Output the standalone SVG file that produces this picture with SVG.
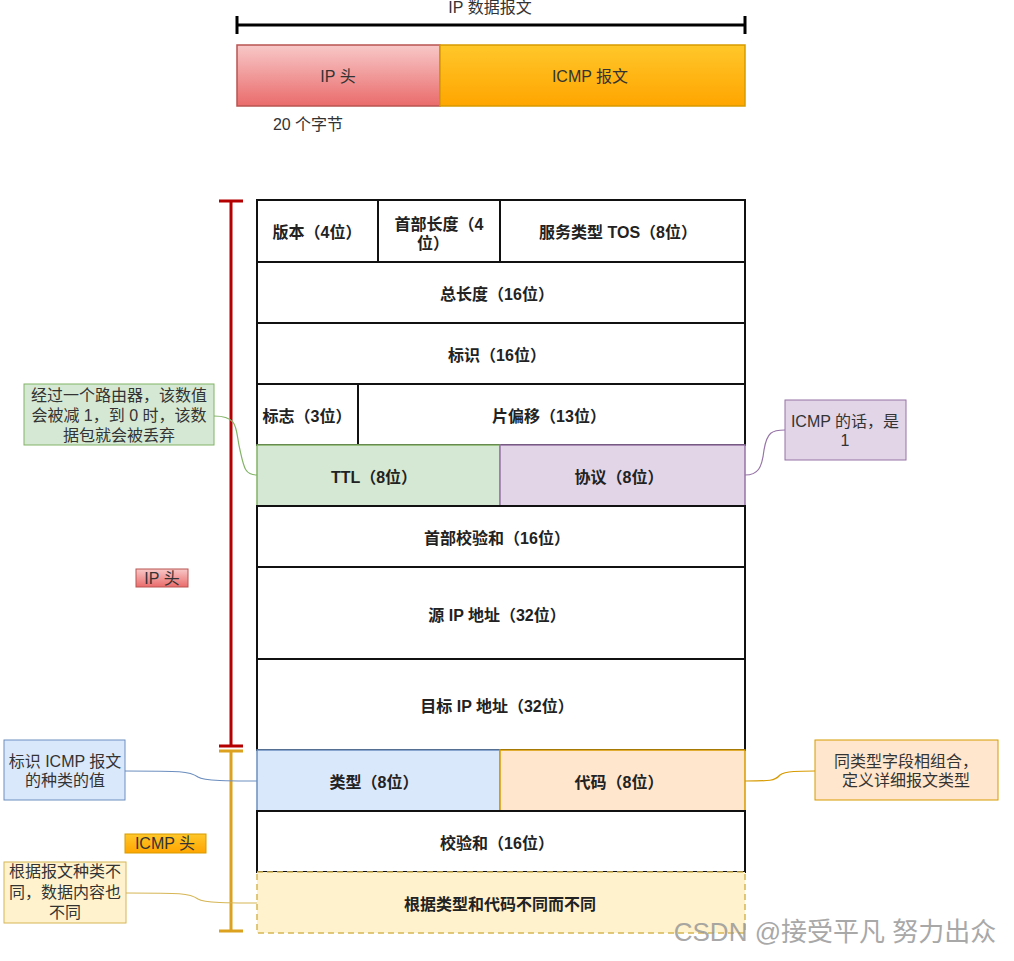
<svg xmlns="http://www.w3.org/2000/svg" width="1014" height="961" viewBox="0 0 1014 961">
<defs>
<linearGradient id="gPink" x1="0" y1="0" x2="0" y2="1"><stop offset="0" stop-color="#f8c8c8"/><stop offset="1" stop-color="#ea6b6b"/></linearGradient>
<linearGradient id="gOrange" x1="0" y1="0" x2="0" y2="1"><stop offset="0" stop-color="#ffc72a"/><stop offset="1" stop-color="#ffa500"/></linearGradient>
<style>
text{font-family:"Liberation Sans","Noto Sans CJK SC",sans-serif;fill:#222;}
.t{font-size:16px;font-weight:bold;text-anchor:middle;}
.a{font-size:16px;text-anchor:middle;fill:#333;}
.cell{fill:#fff;stroke:#111;stroke-width:2;}
.conn{fill:none;stroke-width:1.2;}
</style>
</defs>
<rect width="1014" height="961" fill="#fff"/>

<g id="top">
<text x="490" y="13" class="a">IP 数据报文</text>
<path d="M237 25H745M237 16V34M745 16V34" stroke="#000" stroke-width="3" fill="none"/>
<g id="ip-box"><rect x="237" y="45" width="203" height="61" fill="url(#gPink)" stroke="#b85450" stroke-width="1.5"/><text x="338" y="82" class="a">IP 头</text></g>
<g id="icmp-box"><rect x="440" y="45" width="305" height="61" fill="url(#gOrange)" stroke="#d79b00" stroke-width="1.5"/><text x="590" y="82" class="a">ICMP 报文</text></g>
<text x="308" y="130" class="a">20 个字节</text>
</g>

<g id="brackets">
<path d="M231 201V746M219 201H243M219 746H243" stroke="#b40000" stroke-width="3" fill="none"/>
<path d="M231 751V931M219 751H243M219 931H243" stroke="#dba11f" stroke-width="3" fill="none"/>
<g id="lbl-ip"><rect x="136" y="569" width="52" height="18" fill="url(#gPink)" stroke="#b85450"/><text x="162" y="584" class="a">IP 头</text></g>
<g id="lbl-icmp"><rect x="125" y="834" width="81" height="19" fill="url(#gOrange)" stroke="#d79b00"/><text x="165" y="849" class="a">ICMP 头</text></g>
</g>

<g id="connectors">
<path class="conn" stroke="#82b366" d="M214 416C240 416 235 430 240 450C244 468 245 475 257 475"/>
<path class="conn" stroke="#9673a6" d="M745 475C758 475 762 468 764 450C767 432 772 430 785 430"/>
<path class="conn" stroke="#6c8ebf" d="M125 771C180 771 190 771 198 777C204 781 230 781 257 781"/>
<path class="conn" stroke="#d79b00" d="M745 781C770 781 775 781 780 775C785 771 800 771 815 771"/>
<path class="conn" stroke="#d6b656" d="M126 893C180 893 190 893 198 899C204 903 230 903 257 903"/>
</g>

<g id="table">
<g id="r1">
<rect x="257" y="200" width="121" height="62" class="cell"/><text x="317" y="238" class="t">版本（4位）</text>
<rect x="378" y="200" width="122" height="62" class="cell"/><text x="439" y="230" class="t">首部长度（4</text><text x="433" y="249" class="t">位）</text>
<rect x="500" y="200" width="245" height="62" class="cell"/><text x="618" y="238" class="t">服务类型 TOS（8位）</text>
</g>
<g id="r2"><rect x="257" y="262" width="488" height="61" class="cell"/><text x="497" y="300" class="t">总长度（16位）</text></g>
<g id="r3"><rect x="257" y="323" width="488" height="61" class="cell"/><text x="497" y="361" class="t">标识（16位）</text></g>
<g id="r4">
<rect x="257" y="384" width="101" height="61" class="cell"/><text x="307" y="422" class="t">标志（3位）</text>
<rect x="358" y="384" width="387" height="61" class="cell"/><text x="549" y="422" class="t">片偏移（13位）</text>
</g>
<g id="r5">
<rect x="257" y="445" width="243" height="61" fill="#d5e8d4" stroke="#82b366" stroke-width="1.5"/><text x="374" y="483" class="t">TTL（8位）</text>
<rect x="500" y="445" width="245" height="61" fill="#e1d5e7" stroke="#9673a6" stroke-width="1.5"/><text x="619" y="483" class="t">协议（8位）</text>
</g>
<g id="r6"><rect x="257" y="506" width="488" height="61" class="cell"/><text x="497" y="544" class="t">首部校验和（16位）</text></g>
<g id="r7"><rect x="257" y="567" width="488" height="92" class="cell"/><text x="497" y="621" class="t">源 IP 地址（32位）</text></g>
<g id="r8"><rect x="257" y="659" width="488" height="91" class="cell"/><text x="497" y="712" class="t">目标 IP 地址（32位）</text></g>
<g id="r9">
<rect x="257" y="750" width="243" height="61" fill="#dae8fc" stroke="#6c8ebf" stroke-width="1.5"/><text x="374" y="788" class="t">类型（8位）</text>
<rect x="500" y="750" width="245" height="61" fill="#ffe6cc" stroke="#d79b00" stroke-width="1.5"/><text x="619" y="788" class="t">代码（8位）</text>
</g>
<g id="r10"><rect x="257" y="811" width="488" height="61" class="cell"/><text x="497" y="849" class="t">校验和（16位）</text></g>
<g id="r11"><rect x="257" y="872" width="488" height="61" fill="#fff2cc" stroke="#d6b656" stroke-width="1.5" stroke-dasharray="6 4"/><text x="500" y="910" class="t">根据类型和代码不同而不同</text></g>
</g>

<g id="note-ttl"><rect x="24" y="384" width="190" height="61" fill="#d5e8d4" stroke="#82b366"/>
<text x="119" y="401" class="a">经过一个路由器，该数值</text><text x="119" y="421" class="a">会被减 1，到 0 时，该数</text><text x="119" y="441" class="a">据包就会被丢弃</text></g>
<g id="note-proto"><rect x="785" y="400" width="121" height="60" fill="#e1d5e7" stroke="#9673a6"/>
<text x="845" y="427" class="a">ICMP 的话，是</text><text x="845" y="446" class="a">1</text></g>
<g id="note-type"><rect x="4" y="740" width="121" height="60" fill="#dae8fc" stroke="#6c8ebf"/>
<text x="65" y="767" class="a">标识 ICMP 报文</text><text x="65" y="786" class="a">的种类的值</text></g>
<g id="note-code"><rect x="815" y="740" width="183" height="60" fill="#ffe6cc" stroke="#d79b00"/>
<text x="906" y="767" class="a">同类型字段相组合，</text><text x="906" y="786" class="a">定义详细报文类型</text></g>
<g id="note-data"><rect x="4" y="862" width="122" height="61" fill="#fff2cc" stroke="#d6b656"/>
<text x="65" y="877" class="a">根据报文种类不</text><text x="65" y="898" class="a">同，数据内容也</text><text x="65" y="918" class="a">不同</text></g>

<text x="835" y="941" style="font-size:26px;text-anchor:middle;fill:#999;opacity:0.85">CSDN @接受平凡 努力出众</text>
</svg>
